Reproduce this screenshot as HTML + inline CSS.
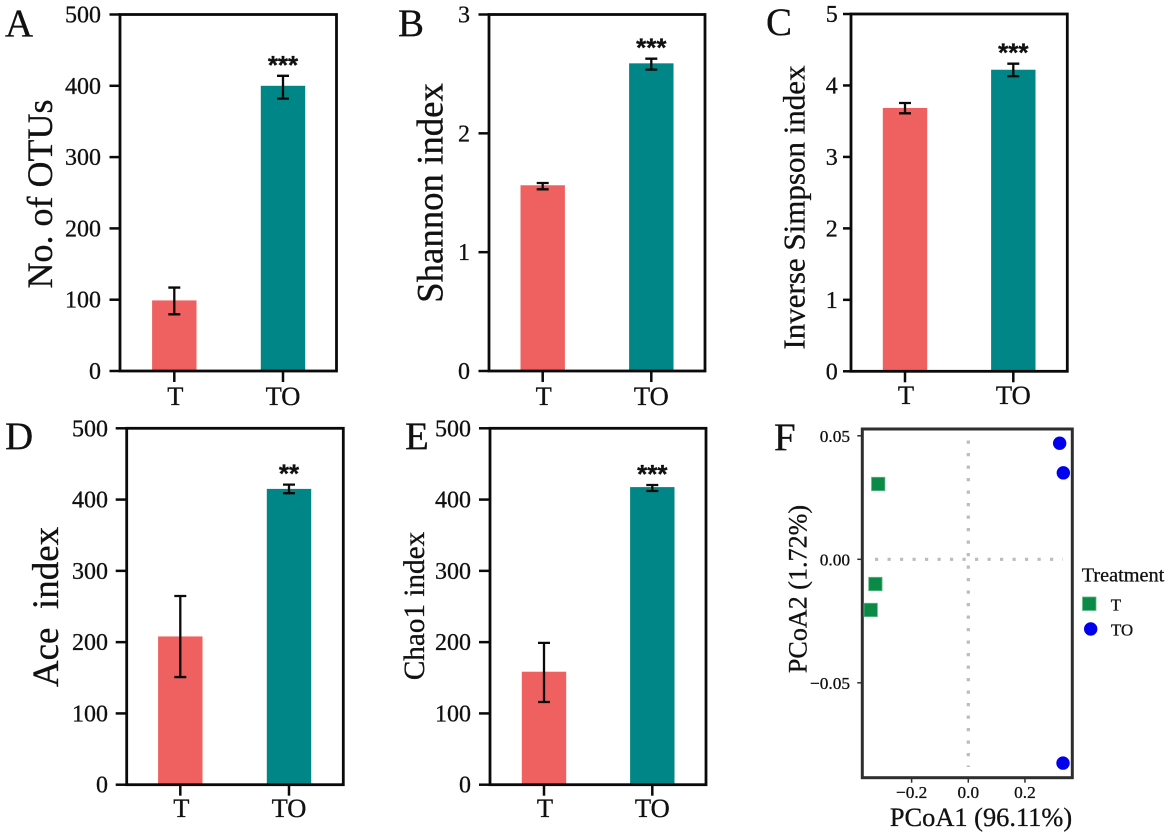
<!DOCTYPE html>
<html lang="en">
<head>
<meta charset="utf-8">
<title>Alpha diversity and PCoA panels</title>
<style>
  html, body { margin: 0; padding: 0; background: #fff; }
  #figure { display: block; width: 1170px; height: 832px; }
  text { font-family: "Liberation Serif", serif; fill: #111; stroke: #111; stroke-width: 0.3px; }
  .panel-letter { font-size: 39px; }
  .stars { font-family: "Liberation Sans", sans-serif; font-weight: bold; font-size: 26px; }
</style>
</head>
<body>
<svg id="figure" xmlns="http://www.w3.org/2000/svg" width="1170" height="832" viewBox="0 0 1170 832">
  <rect x="0" y="0" width="1170" height="832" fill="#ffffff"/>

  <g id="panel-a"></g>
  <g id="panel-b"></g>
  <g id="panel-c"></g>
  <g id="panel-d"></g>
  <g id="panel-e"></g>
  <g id="panel-f"></g>

  <text class="panel-letter" x="5" y="36">A</text>
  <text class="panel-letter" x="398" y="36">B</text>
  <text class="panel-letter" x="766" y="35">C</text>
  <text class="panel-letter" x="5" y="449">D</text>
  <text class="panel-letter" x="405" y="449">E</text>
  <text class="panel-letter" x="774" y="450">F</text>

  <text font-size="36" text-anchor="middle" transform="translate(52,194) rotate(-90)">No. of OTUs</text>
  <text font-size="36.8" text-anchor="middle" transform="translate(442.7,193) rotate(-90)">Shannon index</text>
  <text font-size="31" text-anchor="middle" transform="translate(804.3,207.5) rotate(-90)">Inverse Simpson index</text>
  <text font-size="37" text-anchor="middle" style="white-space:pre" transform="translate(58,607) rotate(-90)">Ace  index</text>
  <text font-size="29.2" text-anchor="middle" transform="translate(424,606) rotate(-90)">Chao1 index</text>
  <text font-size="26.4" text-anchor="middle" x="981" y="826">PCoA1 (96.11%)</text>
  <text font-size="26.1" text-anchor="middle" transform="translate(806.7,589) rotate(-90)">PCoA2 (1.72%)</text>

  <text font-size="20.3" x="1081.7" y="581.7">Treatment</text>
  <rect x="1082.5" y="597" width="13.5" height="13.5" fill="#0b8a47" stroke="#5fb98a" stroke-width="0.8"/>
  <text font-size="16.8" x="1110.7" y="610.7">T</text>
  <circle cx="1090.7" cy="629" r="6.7" fill="#0000ee"/>
  <text font-size="16.8" x="1111" y="635.7">TO</text>
</svg>

<script>
const categories = ['T', 'TO'];

const otusValues = [99, 400];
const otusLow = [79.5, 382];
const otusHigh = [117, 414];
const otusTicks = [0, 100, 200, 300, 400, 500];

const shannonValues = [1.563, 2.589];
const shannonLow = [1.529, 2.536];
const shannonHigh = [1.582, 2.628];
const shannonTicks = [0, 1, 2, 3];

const simpsonValues = [3.685, 4.22];
const simpsonLow = [3.61, 4.13];
const simpsonHigh = [3.755, 4.305];
const simpsonTicks = [0, 1, 2, 3, 4, 5];

const aceValues = [208, 415];
const aceLow = [151, 409];
const aceHigh = [264.7, 421];
const aceTicks = [0, 100, 200, 300, 400, 500];

const chaoValues = [158.5, 417.5];
const chaoLow = [116, 412];
const chaoHigh = [199, 420.5];
const chaoTicks = [0, 100, 200, 300, 400, 500];

const significance = { otus: '***', shannon: '***', simpson: '***', ace: '**', chao: '***' };

const pcoaTreatmentX = [-0.318, -0.328, -0.3445];
const pcoaTreatmentY = [0.0305, -0.010, -0.0205];
const pcoaOilX = [0.3225, 0.3354, 0.3343];
const pcoaOilY = [0.047, 0.035, -0.0825];
const pcoaXTicks = [-0.2, 0.0, 0.2];
const pcoaYTicks = [0.05, 0.00, -0.05];

const SVG_NS = 'http://www.w3.org/2000/svg';
const RED = '#ef6060';
const TEAL = '#008686';

function make(parent, tag, attrs, text) {
  const node = document.createElementNS(SVG_NS, tag);
  Object.keys(attrs).forEach(function (k) { node.setAttribute(k, attrs[k]); });
  if (text !== undefined) node.textContent = text;
  parent.appendChild(node);
  return node;
}

function drawBarPanel(p) {
  const host = document.getElementById(p.host);
  const maxY = p.ticks[p.ticks.length - 1];
  const yScale = function (v) { return p.bottom - (v / maxY) * (p.bottom - p.top); };
  const xScale = function (i) { return p.center0 + i * p.step; };
  let el;

  categories.forEach(function (cat, i) {
    el = make(host, 'rect', {
      x: xScale(i) - 22.2,
      y: yScale(p.values[i]),
      width: 44.4,
      height: p.bottom - yScale(p.values[i]),
      fill: i === 0 ? RED : TEAL
    });
    
    

    const cx = xScale(i);
    const yLow = yScale(p.low[i]);
    const yHigh = yScale(p.high[i]);
    el = make(host, 'path', {
      d: 'M' + (cx - 6) + ' ' + yHigh + 'H' + (cx + 6) + 'M' + cx + ' ' + yHigh + 'V' + yLow + 'M' + (cx - 6) + ' ' + yLow + 'H' + (cx + 6),
      fill: 'none',
      stroke: '#0a0a0a',
      'stroke-width': 2.3
    });
    
    

    el = make(host, 'line', {
      x1: cx, x2: cx, y1: p.bottom, y2: p.bottom + 11,
      stroke: '#0a0a0a', 'stroke-width': 2.5
    });
    
    

    el = make(host, 'text', {
      x: cx + (i === 0 ? 1 : 0),
      y: p.xLabelY,
      'font-size': 26.5,
      'text-anchor': 'middle'
    }, cat);
    
    
  });

  el = make(host, 'text', {
    class: 'stars',
    x: xScale(1),
    y: yScale(p.high[1]) - 2,
    'text-anchor': 'middle'
  }, p.stars);
  
  

  p.ticks.forEach(function (t) {
    const y = yScale(t);
    el = make(host, 'line', {
      x1: p.left - p.tickLen, x2: p.left, y1: y, y2: y,
      stroke: '#0a0a0a', 'stroke-width': 2.5
    });
    
    

    el = make(host, 'text', {
      x: p.labelRight,
      y: y + 8,
      'font-size': 24,
      'text-anchor': 'end'
    }, String(t));
    
    
  });

  el = make(host, 'rect', {
    x: p.left,
    y: p.top,
    width: p.right - p.left,
    height: p.bottom - p.top,
    fill: 'none',
    stroke: '#0a0a0a',
    'stroke-width': 2.8
  });
  
  
}

drawBarPanel({ host: 'panel-a', key: 'otus', values: otusValues, low: otusLow, high: otusHigh, ticks: otusTicks, stars: significance.otus,
  left: 120, right: 336.5, top: 14.5, bottom: 371, center0: 174.3, step: 108.7, xLabelY: 405, labelRight: 101, tickLen: 10.5 });
drawBarPanel({ host: 'panel-b', key: 'shannon', values: shannonValues, low: shannonLow, high: shannonHigh, ticks: shannonTicks, stars: significance.shannon,
  left: 489, right: 705, top: 14.5, bottom: 371, center0: 542.7, step: 108.6, xLabelY: 405, labelRight: 470, tickLen: 10.5 });
drawBarPanel({ host: 'panel-c', key: 'simpson', values: simpsonValues, low: simpsonLow, high: simpsonHigh, ticks: simpsonTicks, stars: significance.simpson,
  left: 851, right: 1067.3, top: 14, bottom: 371.3, center0: 905, step: 108.3, xLabelY: 404, labelRight: 837.7, tickLen: 8 });
drawBarPanel({ host: 'panel-d', key: 'ace', values: aceValues, low: aceLow, high: aceHigh, ticks: aceTicks, stars: significance.ace,
  left: 126.7, right: 343.3, top: 428.3, bottom: 784.7, center0: 180.3, step: 108.7, xLabelY: 817, labelRight: 108, tickLen: 11 });
drawBarPanel({ host: 'panel-e', key: 'chao', values: chaoValues, low: chaoLow, high: chaoHigh, ticks: chaoTicks, stars: significance.chao,
  left: 490, right: 706, top: 428.3, bottom: 784.7, center0: 544, step: 108.3, xLabelY: 817, labelRight: 471, tickLen: 11 });

(function drawPcoa() {
  const host = document.getElementById('panel-f');
  const frame = { left: 862.3, right: 1072.3, top: 429, bottom: 777.7 };
  const xScale = function (v) { return 968.3 + v * 283.3; };
  const yScale = function (v) { return 559.3 - v * 2470; };
  let el;

  el = make(host, 'line', {
    x1: 875, x2: 1063, y1: yScale(0), y2: yScale(0),
    stroke: '#bcbcbc', 'stroke-width': 3.2, 'stroke-dasharray': '3.2 9.3'
  });
  
  

  el = make(host, 'line', {
    x1: xScale(0), x2: xScale(0), y1: 440.5, y2: 767,
    stroke: '#bcbcbc', 'stroke-width': 3.2, 'stroke-dasharray': '3.2 9.3'
  });
  
  

  el = make(host, 'rect', {
    x: frame.left, y: frame.top,
    width: frame.right - frame.left,
    height: frame.bottom - frame.top,
    fill: 'none', stroke: '#2e2e2e', 'stroke-width': 3
  });
  
  

  pcoaTreatmentX.forEach(function (xv, i) {
    el = make(host, 'rect', {
      x: xScale(xv) - 6.7,
      y: yScale(pcoaTreatmentY[i]) - 6.7,
      width: 13.4,
      height: 13.4,
      fill: '#0b8a47',
      stroke: '#5fb98a',
      'stroke-width': 0.8
    });
    
    
  });

  pcoaOilX.forEach(function (xv, i) {
    el = make(host, 'circle', {
      cx: xScale(xv),
      cy: yScale(pcoaOilY[i]),
      r: 6.7,
      fill: '#0000ee'
    });
    
    
  });

  pcoaXTicks.forEach(function (t, i) {
    const x = xScale(t);
    el = make(host, 'line', {
      x1: x, x2: x, y1: frame.bottom, y2: frame.bottom + 5,
      stroke: '#2e2e2e', 'stroke-width': 1.5
    });
    
    

    el = make(host, 'text', {
      x: x, y: 798, 'font-size': 17.3, 'text-anchor': 'middle'
    }, t.toFixed(1).replace('-', '\u2212'));
    
    
  });

  pcoaYTicks.forEach(function (t, i) {
    const y = yScale(t);
    el = make(host, 'line', {
      x1: frame.left - 5, x2: frame.left, y1: y, y2: y,
      stroke: '#2e2e2e', 'stroke-width': 1.5
    });
    
    

    el = make(host, 'text', {
      x: 850, y: y + 6, 'font-size': 17.3, 'text-anchor': 'end'
    }, t.toFixed(2).replace('-', '\u2212'));
    
    
  });
})();
</script>
</body>
</html>
